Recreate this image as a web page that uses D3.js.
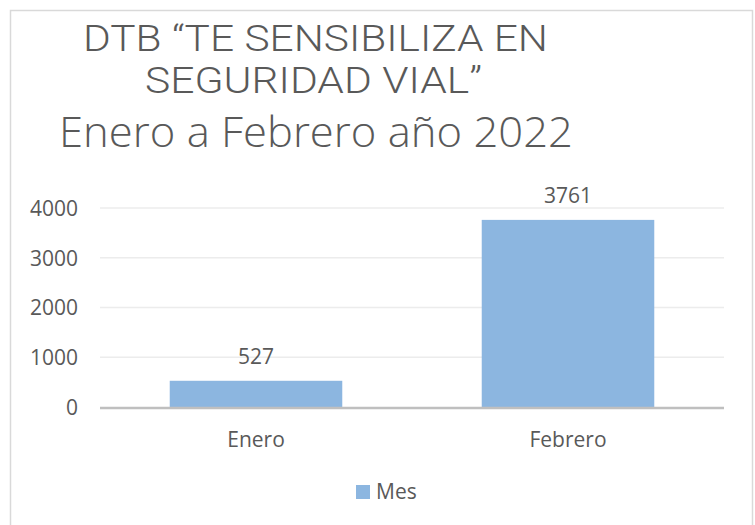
<!DOCTYPE html>
<html>
<head>
<meta charset="utf-8">
<script src="https://cdn.jsdelivr.net/npm/d3@7"></script>
<style>
  body { margin: 0; background: #fff; }
</style>
</head>
<body>
<script>
// chart values
var months = ["Enero", "Febrero"];
var counts = [527, 3761];
var yTicks = [0, 1000, 2000, 3000, 4000];
var titleLines = ["DTB \u201CTE SENSIBILIZA EN", "SEGURIDAD VIAL\u201D"];
var subTitle = "Enero a Febrero a\u00F1o 2022";
var seriesName = "Mes";

const bar_col = "#8cb6e0",
      text_col = "#595959";

var svg = d3.select("body")
    .append("svg")
    .attr("width", 755)
    .attr("height", 525);

// chart border
svg.append("rect")
    .attr("x", 10.5)
    .attr("y", 10.5)
    .attr("width", 742)
    .attr("height", 530)
    .attr("fill", "none")
    .attr("stroke", "#d9d9d9")
    .attr("stroke-width", 1.5);

// title
var titleSpec = [
    {t: titleLines[0], x: 315.5, y: 50.7, len: 465},
    {t: titleLines[1], x: 313.5, y: 92.7, len: 337}
];
titleSpec.forEach(function (d) {
    svg.append("text")
        .text(d.t)
        .attr("x", d.x)
        .attr("y", d.y)
        .attr("font-family", "Roboto, 'Liberation Sans', sans-serif")
        .attr("font-size", "36px")
        .attr("font-weight", 300)
        .attr("fill", text_col)
        .attr("text-anchor", "middle")
        .attr("textLength", d.len)
        .attr("lengthAdjust", "spacingAndGlyphs");
});

svg.append("text")
    .text(subTitle)
    .attr("x", 316)
    .attr("y", 146.7)
    .attr("font-family", "'Open Sans', sans-serif")
    .attr("font-size", "43px")
    .attr("font-weight", 300)
    .attr("fill", text_col)
    .attr("text-anchor", "middle")
    .attr("textLength", 514)
    .attr("lengthAdjust", "spacingAndGlyphs");

// scales
var x = d3.scaleBand()
    .domain(months)
    .range([100, 724])
    .paddingInner(0.447)
    .paddingOuter(0.2235);

var y = d3.scaleLinear()
    .domain([0, 4000])
    .range([407, 208]);

// gridlines
svg.append("g")
    .selectAll("line")
    .data(yTicks.filter(function (t) { return t > 0; }))
    .enter().append("line")
    .attr("x1", 100)
    .attr("x2", 724)
    .attr("y1", function (d) { return y(d); })
    .attr("y2", function (d) { return y(d); })
    .attr("stroke", "#ececec")
    .attr("stroke-width", 1.5);

// y tick labels
var yAxis = svg.append("g")
    .attr("transform", "translate(100,0)")
    .call(d3.axisLeft(y).tickValues(yTicks).tickFormat(d3.format("d")).tickSize(0).tickPadding(22));
yAxis.select(".domain").remove();
yAxis.selectAll("text")
    .attr("font-family", "'Open Sans', sans-serif")
    .attr("font-size", "21px")
    .attr("fill", text_col)
    .attr("dy", "0.35em");

// bars
svg.append("g")
    .selectAll("rect")
    .data(counts)
    .enter().append("rect")
    .attr("x", function (d, i) { return x(months[i]); })
    .attr("y", function (d) { return y(d); })
    .attr("width", x.bandwidth())
    .attr("height", function (d) { return y(0) - y(d); })
    .attr("fill", bar_col);

// value labels
svg.append("g")
    .selectAll("text")
    .data(counts)
    .enter().append("text")
    .text(function (d) { return d; })
    .attr("x", function (d, i) { return x(months[i]) + x.bandwidth() / 2; })
    .attr("y", function (d) { return y(d) - 17; })
    .attr("font-family", "'Open Sans', sans-serif")
    .attr("font-size", "21px")
    .attr("fill", text_col)
    .attr("text-anchor", "middle");

// x axis line
svg.append("line")
    .attr("x1", 100)
    .attr("x2", 724)
    .attr("y1", y(0) + 1)
    .attr("y2", y(0) + 1)
    .attr("stroke", "#bfbfbf")
    .attr("stroke-width", 2.5);

// category labels
var xAxis = svg.append("g")
    .attr("transform", "translate(0,427)")
    .call(d3.axisBottom(x).tickSize(0).tickPadding(0));
xAxis.select(".domain").remove();
xAxis.selectAll("text")
    .attr("font-family", "'Open Sans', sans-serif")
    .attr("font-size", "21px")
    .attr("fill", text_col)
    .attr("dy", "0.95em");

// legend
var legend = svg.append("g")
    .attr("transform", "translate(356,485)");
legend.append("rect")
    .attr("width", 14)
    .attr("height", 14)
    .attr("fill", bar_col);
legend.append("text")
    .text(seriesName)
    .attr("x", 20)
    .attr("y", 14)
    .attr("font-family", "'Open Sans', sans-serif")
    .attr("font-size", "21px")
    .attr("fill", text_col);
</script>
</body>
</html>
